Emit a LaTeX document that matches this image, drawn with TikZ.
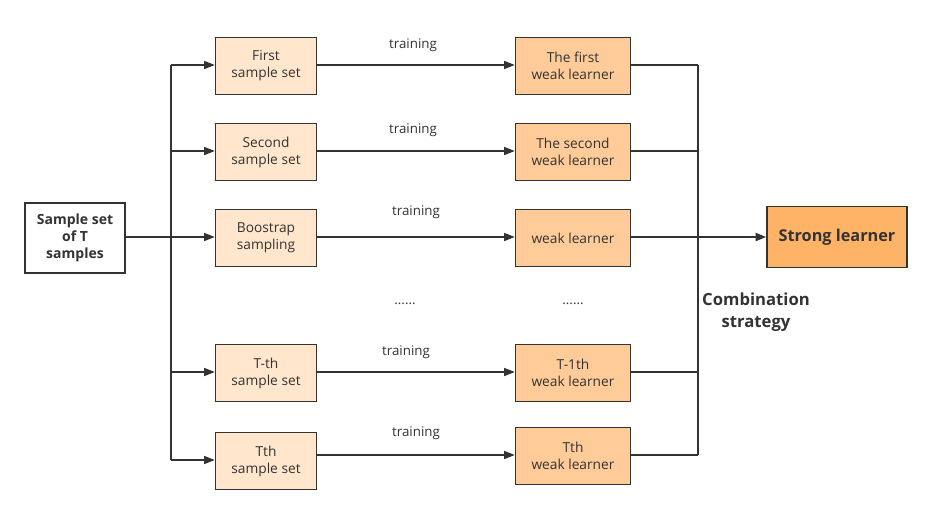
\documentclass[tikz,border=0pt]{standalone}
\usepackage{fontspec}
\setmainfont{Open Sans}
\usetikzlibrary{arrows.meta}
\definecolor{setfill}{HTML}{FFE6CC}
\definecolor{weakfill}{HTML}{FFCC99}
\definecolor{strongfill}{HTML}{FFB366}
\definecolor{edge}{HTML}{333333}
\begin{document}
\begin{tikzpicture}[x=0.75pt,y=-0.75pt,>={Triangle[length=8pt,width=6pt]},
  box/.style={draw=edge,line width=1.1pt,minimum height=42.75pt,align=center,
    text=edge,inner sep=0pt,font=\fontsize{10.3}{12.75}\selectfont},
  setbox/.style={box,fill=setfill,minimum width=75.75pt},
  weakbox/.style={box,fill=weakfill,minimum width=86.25pt},
  link/.style={draw=edge,line width=1.1pt},
  tag/.style={text=edge,font=\fontsize{10}{12}\selectfont}]
\useasboundingbox (0,0) rectangle (931,515);
% source and result
\node[box,fill=white,minimum width=75pt,minimum height=52.5pt,
  font=\bfseries\fontsize{10.5}{12.75}\selectfont](src) at (75,238){Sample set\\of T\\samples};
\node[box,fill=strongfill,minimum width=105pt,minimum height=45.75pt,
  font=\bfseries\fontsize{12.2}{14}\selectfont](strong) at (837,237){Strong learner};
% sample sets
\node[setbox](s1) at (266,66){First\\sample set};
\node[setbox](s2) at (266,152){Second\\sample set};
\node[setbox](s3) at (266,238){Boostrap\\sampling};
\node[setbox](s4) at (266,373){T-th\\sample set};
\node[setbox](s5) at (266,461){Tth\\sample set};
% weak learners
\node[weakbox](w1) at (573,66){The first\\weak learner};
\node[weakbox](w2) at (573,152){The second\\weak learner};
\node[weakbox](w3) at (573,238){weak learner};
\node[weakbox](w4) at (573,373){T-1th\\weak learner};
\node[weakbox](w5) at (573,456){Tth\\weak learner};
% bus lines
\foreach \i/\y in {1/65,2/151,3/237,4/372,5/460}
  \coordinate (b\i) at (171,\y);
\foreach \i/\y in {1/65,2/151,3/237,4/372,5/455}
  \coordinate (c\i) at (698,\y);
\draw[link](b1)--(b5);
\draw[link](c1)--(c5);
\draw[link,line width=1.6pt](src.east|-b3)--(b3);
\foreach \i in {1,...,5}{
  \draw[link,->](b\i)--(s\i.west|-b\i);
  \draw[link,->](s\i.east|-c\i)--(w\i.west|-c\i);
  \draw[link](w\i.east|-c\i)--(c\i);
}
\draw[link,line width=1.6pt,->](c3)--(strong.west|-c3);
% labels
\node[tag](t1) at (413,45){training};
\node[tag](t2) at (413,130){training};
\node[tag](t3) at (416,212){training};
\node[tag](t4) at (406,352){training};
\node[tag](t5) at (416,433){training};
\node[tag](d1) at (405,304){......};
\node[tag](d2) at (573,304){......};
\node[align=center,text=edge,font=\bfseries\fontsize{12.5}{16.5}\selectfont](comb)
  at (756,312){Combination\\strategy};
\end{tikzpicture}
\end{document}
